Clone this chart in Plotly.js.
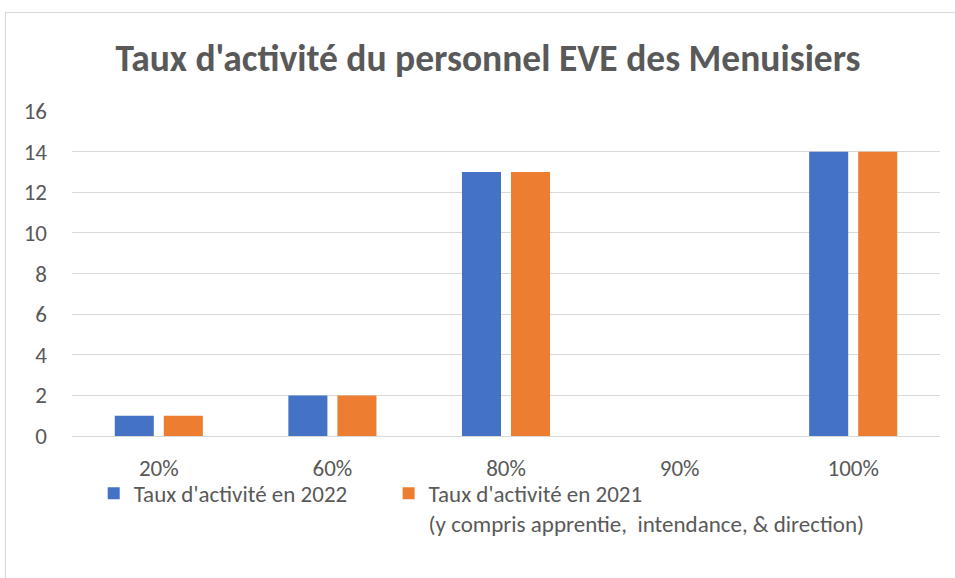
<!DOCTYPE html>
<html>
<head>
<meta charset="utf-8">
<script src="https://cdn.plot.ly/plotly-3.0.1.min.js"></script>
<style>
html,body{margin:0;padding:0;background:#fff;}
#wrap{position:relative;width:955px;height:578px;}
#chart{width:955px;height:578px;}
#frame{position:absolute;left:5px;top:12px;width:960px;height:580px;border-left:1px solid #d9d9d9;border-top:1px solid #d9d9d9;pointer-events:none;}
</style>
</head>
<body>
<div id="wrap"><div id="chart"></div><div id="frame"></div></div>
<script>
const categories = ['20%', '60%', '80%', '90%', '100%'];
const values2022 = [1, 2, 13, 0, 14];
const values2021 = [1, 2, 13, 0, 14];
const seriesNames = ["Taux d'activité en 2022", "Taux d'activité en 2021<br>(y compris apprentie,  intendance, & direction)"];
const yTicks = [0, 2, 4, 6, 8, 10, 12, 14, 16];

const FONT = "Calibri, Carlito, 'Open Sans', sans-serif";
const GREY = '#595959';
const PAD = '\u00a0'.repeat(7);

const data = [
  {type: 'bar', x: categories, y: values2022, name: seriesNames[0] + PAD, marker: {color: '#4472C4'}, hoverinfo: 'none'},
  {type: 'bar', x: categories, y: values2021, name: seriesNames[1], marker: {color: '#ED7D31'}, hoverinfo: 'none'}
];

const layout = {
  width: 955, height: 578,
  margin: {l: 72, r: 15, t: 111, b: 142},
  paper_bgcolor: 'rgba(0,0,0,0)', plot_bgcolor: '#fff',
  font: {family: FONT, color: GREY, size: 23},
  title: {text: "<b>Taux d'activité du personnel EVE des Menuisiers</b>", font: {family: FONT, size: 37.5, color: GREY}, x: 0.511, xanchor: 'center', y: 0.9, yanchor: 'middle'},
  barmode: 'group', bargap: 0.435, bargroupgap: 0.204,
  xaxis: {type: 'category', tickvals: categories, ticktext: categories, showgrid: false, showline: false, zeroline: false, ticks: '', ticklabelstandoff: 16, tickfont: {size: 23, color: GREY}},
  yaxis: {range: [0, 16], tickvals: yTicks, showgrid: true, gridcolor: '#d9d9d9', gridwidth: 1, zeroline: true, zerolinecolor: '#d9d9d9', zerolinewidth: 1, showline: false, ticks: '', ticklabelstandoff: 24, tickfont: {size: 23, color: GREY}},
  showlegend: true,
  legend: {orientation: 'h', x: 0.025, xanchor: 'left', y: -0.11, yanchor: 'top', valign: 'top', font: {size: 23, color: GREY}, itemwidth: 30, traceorder: 'normal'}
};

Plotly.newPlot('chart', data, layout, {displayModeBar: false, staticPlot: true});
</script>
</body>
</html>
